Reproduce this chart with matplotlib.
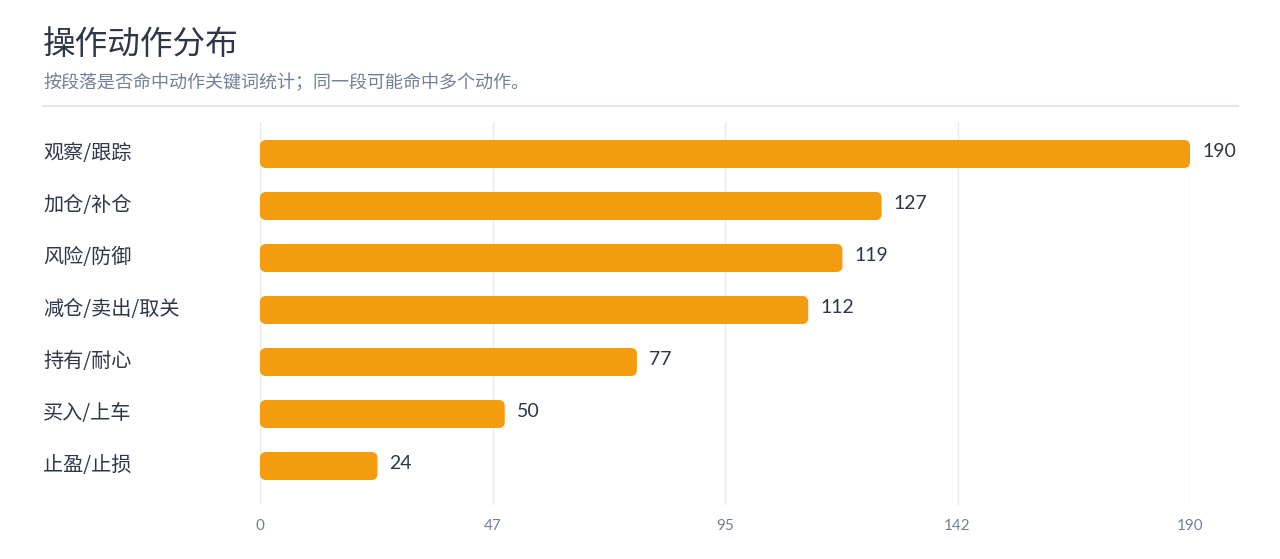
import matplotlib
matplotlib.use('Agg')
import matplotlib.pyplot as plt
from matplotlib.patches import FancyBboxPatch
from matplotlib.lines import Line2D

plt.rcParams['font.family'] = ['Noto Sans CJK SC', 'DejaVu Sans']

categories = ['观察/跟踪', '加仓/补仓', '风险/防御', '减仓/卖出/取关', '持有/耐心', '买入/上车', '止盈/止损']
counts = [190, 127, 119, 112, 77, 50, 24]
tick_values = [0, 47.5, 95, 142.5, 190]
tick_labels = ['0', '47', '95', '142', '190']

title = '操作动作分布'
subtitle = '按段落是否命中动作关键词统计；同一段可能命中多个动作。'

W, H = 1280, 559
fig = plt.figure(figsize=(W / 100, H / 100), dpi=100)

# axes placed in pixel terms
left, right, top, bottom = 260, 1190, 122, 505
ax = fig.add_axes([left / W, (H - bottom) / H, (right - left) / W, (bottom - top) / H])

row = 52.0
ylim_top = (top - 154) / row
ylim_bot = (bottom - 154) / row
ax.set_xlim(0, 190)
ax.set_ylim(ylim_bot, ylim_top)

bar_h = 28 / row
px_x = (right - left) / 190.0  # pixels per x unit
aspect = px_x / row            # y units per x unit for equal-pixel rounding
radius = 6 / px_x

for i, (cat, v) in enumerate(zip(categories, counts)):
    patch = FancyBboxPatch((0, i - bar_h / 2), v, bar_h,
                           boxstyle=f'round,pad=0,rounding_size={radius}',
                           mutation_aspect=aspect,
                           facecolor='#f39c0f', edgecolor='none', zorder=3)
    ax.add_patch(patch)
    ax.text(v + 12 / px_x, i - 0.05, str(v), va='center', ha='left',
            fontsize=14, color='#2d3748', family=['Lato', 'DejaVu Sans'])
    fig.text(43 / W, (H - (154 + 52 * i)) / H, cat, va='center', ha='left',
             fontsize=14.5, color='#2d3748')

ax.set_xticks(tick_values)
ax.set_xticklabels(tick_labels, fontsize=11, color='#718096', family=['Lato', 'DejaVu Sans'])
ax.tick_params(axis='x', length=0, pad=10)
ax.set_yticks([])
ax.grid(axis='x', color='#e8eaf0', linewidth=1, zorder=0)
for s in ax.spines.values():
    s.set_visible(False)

fig.text(43 / W, (H - 45) / H, title, va='center', ha='left', fontsize=23.5,
         color='#2d3748', fontweight='medium')
fig.text(43 / W, (H - 83) / H, subtitle, va='center', ha='left', fontsize=13, color='#718096')
fig.add_artist(Line2D([43 / W, 1238 / W], [(H - 106) / H] * 2, color='#e2e6ec', linewidth=1.5))

fig.savefig('out.png', dpi=100, facecolor='white')
